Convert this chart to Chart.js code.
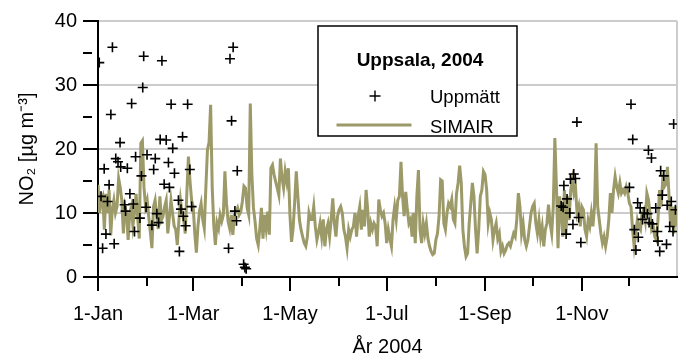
<!DOCTYPE html>
<html>
<head>
<meta charset="utf-8">
<script src="https://cdn.jsdelivr.net/npm/chart.js@4.4.1/dist/chart.umd.min.js"></script>
<style>
html,body{margin:0;padding:0;background:#ffffff;}
#wrap{width:688px;height:356px;position:relative;}
</style>
</head>
<body>
<div id="wrap"><canvas id="chart" width="688" height="356"></canvas></div>
<script>
// ---- data ----
const measuredDays = [
  0.8, 9.1, 28.8, 40.3, 28.2, 21.2, 46.1, 56.5, 8.1, 13.9, 39.2, 43.0, 53.3, 47.1, 11.2, 12.6, 23.7,
  30.9, 36.1, 14.3, 18.5, 3.9, 35.1, 44.4, 48.2, 57.9, 27.4, 7.0, 41.7, 45.0, 1.9, 20.1, 6.0, 50.7,
  16.8, 22.2, 52.3, 59.0, 30.3, 17.4, 37.1, 53.8, 26.4, 38.2, 34.0, 55.2, 23.0, 5.0, 10.2, 2.9, 51.3,
  85.2, 83.2, 84.2, 87.8, 86.3, 87.3, 82.3, 91.8, 92.6, 93.4,
  301.9, 299.9, 300.9, 297.8, 293.7, 295.7, 292.0, 293.2, 297.4, 303.0, 299.4, 295.1, 304.4,
  336.0, 362.9, 337.1, 347.0, 348.9, 354.7, 356.7, 335.0, 355.7, 340.2, 361.4, 358.8, 364.0, 341.8,
  351.6, 344.3, 346.4, 343.3, 347.4, 349.5, 360.4, 338.1, 352.6, 362.5, 340.6, 353.0, 358.4, 339.1, 354.1
];
const measuredValues = [
  33.5, 35.9, 34.5, 33.8, 29.6, 27.1, 27.0, 27.0, 25.4, 21.0, 21.5, 21.4, 21.9, 20.1, 18.5, 18.0, 18.8,
  19.1, 18.5, 17.2, 17.0, 16.9, 16.8, 17.9, 16.2, 16.8, 15.8, 14.4, 14.5, 14.0, 12.6, 13.0, 11.8, 12.0,
  11.3, 11.4, 10.6, 11.0, 10.9, 10.3, 9.9, 9.5, 9.2, 8.5, 8.1, 8.0, 7.1, 6.7, 5.2, 4.5, 4.0,
  35.9, 34.1, 24.4, 16.6, 10.3, 8.8, 4.5, 2.0, 1.5, 1.3,
  24.2, 16.1, 15.4, 15.3, 14.3, 12.2, 11.1, 10.9, 10.0, 9.3, 8.2, 6.7, 5.4,
  27.0, 23.9, 21.5, 19.8, 18.6, 16.6, 15.8, 14.0, 12.8, 11.6, 11.8, 11.2, 10.5, 10.8,
  10.8, 10.0, 9.9, 9.0, 8.5, 8.3, 7.9, 7.4, 7.1, 7.1, 6.2, 5.6, 5.1, 4.2, 4.0
];
// SIMAIR daily values, 1 Jan .. 31 Dec 2004
const simairValues = [
  14.4, 10.0, 12.0, 12.6, 7.4, 13.0, 10.0, 13.6, 6.5, 10.5,
  12.0, 10.0, 11.0, 15.4, 14.0, 12.0, 6.8, 11.0, 10.0, 5.8,
  10.0, 11.0, 8.0, 10.0, 13.0, 9.4, 6.0, 20.9, 21.3, 14.0,
  11.0, 12.0, 9.4, 7.0, 4.5, 11.0, 12.0, 9.4, 7.5, 12.6,
  8.9, 9.5, 11.0, 12.0, 6.8, 9.4, 12.0, 10.0, 8.0, 7.4,
  5.0, 8.9, 12.0, 10.0, 9.0, 6.8, 13.1, 18.8, 15.0, 12.0,
  11.0, 6.8, 3.8, 7.9, 10.3, 11.5, 9.0, 7.6, 14.0, 19.9,
  21.0, 26.9, 14.0, 8.0, 5.0, 8.5, 7.6, 9.7, 8.7, 9.7,
  16.5, 11.5, 8.7, 7.6, 9.7, 6.6, 9.7, 10.2, 10.8, 9.7,
  10.2, 11.8, 14.2, 13.9, 10.8, 9.7, 27.1, 16.0, 10.8, 8.7,
  6.0, 5.0, 7.6, 10.8, 6.0, 9.7, 7.6, 10.2, 6.6, 17.0,
  17.5, 16.0, 14.9, 13.9, 12.8, 18.5, 15.5, 13.9, 16.5, 14.9,
  17.0, 9.7, 5.5, 7.6, 11.8, 16.5, 12.6, 8.9, 7.4, 6.3,
  5.3, 4.8, 6.3, 10.0, 9.0, 9.0, 11.0, 7.9, 5.8, 7.0,
  8.4, 6.3, 9.0, 4.8, 7.4, 8.4, 6.3, 9.0, 12.3, 8.4,
  6.3, 9.5, 10.5, 11.0, 10.0, 7.4, 6.3, 4.5, 7.4, 6.3,
  7.4, 7.9, 10.0, 6.3, 9.5, 11.0, 7.4, 10.5, 7.9, 13.6,
  10.5, 6.3, 8.4, 7.4, 8.4, 7.9, 4.8, 12.1, 10.5, 9.5,
  10.0, 8.4, 5.3, 7.4, 6.0, 4.8, 9.0, 11.0, 9.0, 12.0,
  12.6, 18.0, 12.6, 9.5, 13.3, 10.5, 8.4, 9.0, 6.3, 10.0,
  5.3, 12.6, 16.7, 7.4, 5.3, 8.4, 6.8, 8.4, 6.0, 4.8,
  4.0, 3.5, 3.7, 5.8, 6.8, 9.5, 15.2, 15.0, 8.4, 7.4,
  10.0, 11.5, 11.0, 12.1, 9.0, 8.4, 13.0, 14.7, 17.4, 14.7,
  7.4, 4.8, 3.2, 3.7, 8.4, 11.5, 14.7, 12.6, 7.4, 3.7,
  7.4, 12.6, 13.6, 16.5, 16.0, 13.6, 8.4, 10.0, 8.9, 5.8,
  7.4, 8.4, 6.0, 6.8, 4.0, 4.8, 3.7, 4.2, 5.0, 5.3,
  4.8, 5.8, 6.8, 6.3, 9.0, 13.1, 11.0, 6.8, 8.4, 5.8,
  4.8, 5.8, 7.9, 10.0, 11.0, 11.5, 8.4, 6.8, 8.9, 6.3,
  7.9, 4.8, 7.4, 8.4, 11.3, 8.4, 6.8, 11.0, 21.7, 14.0,
  4.5, 12.6, 10.0, 6.3, 13.6, 6.8, 12.6, 8.9, 13.6, 15.2,
  13.1, 14.1, 10.0, 11.0, 7.9, 11.0, 10.5, 7.4, 6.3, 8.9,
  7.9, 10.0, 7.9, 11.0, 20.9, 11.0, 8.9, 6.8, 5.3, 6.3,
  4.8, 6.3, 8.9, 13.1, 10.0, 13.6, 15.7, 14.1, 13.1, 14.7,
  13.1, 13.6, 13.1, 14.1, 13.1, 11.5, 11.0, 7.4, 4.8, 6.8,
  8.9, 7.9, 7.4, 10.0, 10.5, 8.9, 13.1, 12.1, 10.0, 7.4,
  7.9, 6.3, 5.8, 8.9, 13.6, 11.0, 15.2, 14.1, 14.5, 17.2,
  12.6, 7.9, 11.0, 6.8, 11.0, 7.9
];
const monthStartDays = [0, 31, 60, 91, 121, 152, 182, 213, 244, 274, 305, 335, 365];
const monthLabels = ['1-Jan', '', '1-Mar', '', '1-May', '', '1-Jul', '', '1-Sep', '', '1-Nov', '', ''];
const yTickValues = [0, 5, 10, 15, 20, 25, 30, 35, 40];
const seriesNames = ['Uppmätt', 'SIMAIR'];
const chartTitle = 'Uppsala, 2004';
const xTitle = 'År 2004';
const yTitle = 'NO₂ [µg m⁻³]';

// ---- build ----
const FONT = "'Liberation Sans', Arial, sans-serif";
const OLIVE = '#9c9a68';
const GRID = '#cccccc';

const measuredPoints = measuredDays.map((d, i) => ({ x: d, y: measuredValues[i] }));
const simairPoints = simairValues.map((v, i) => ({ x: i, y: v }));

const boxLegend = {
  id: 'boxLegend',
  afterDatasetsDraw(chart) {
    const ctx = chart.ctx;
    const ca = chart.chartArea;
    const bx = ca.left + 220, by = ca.top + 5, bw = 199, bh = 110;
    ctx.save();
    ctx.fillStyle = '#ffffff';
    ctx.fillRect(bx, by, bw, bh);
    ctx.strokeStyle = '#000000';
    ctx.lineWidth = 1.5;
    ctx.strokeRect(bx, by, bw, bh);
    ctx.fillStyle = '#000000';
    ctx.textBaseline = 'alphabetic';
    ctx.textAlign = 'center';
    ctx.font = "bold 19px " + FONT;
    ctx.fillText(chartTitle, bx + 102, by + 40);
    const ds0 = chart.data.datasets[0], ds1 = chart.data.datasets[1];
    const mx = bx + 57, my = by + 70;
    ctx.strokeStyle = ds0.borderColor;
    ctx.lineWidth = 1.4;
    ctx.beginPath();
    ctx.moveTo(mx - 5.5, my); ctx.lineTo(mx + 5.5, my);
    ctx.moveTo(mx, my - 5.5); ctx.lineTo(mx, my + 5.5);
    ctx.stroke();
    ctx.strokeStyle = ds1.borderColor;
    ctx.lineWidth = 3;
    ctx.beginPath();
    ctx.moveTo(bx + 18.5, by + 99); ctx.lineTo(bx + 93.5, by + 99);
    ctx.stroke();
    ctx.textAlign = 'left';
    ctx.font = "18.5px " + FONT;
    ctx.fillText(ds0.label, bx + 112, by + 77);
    ctx.fillText(ds1.label, bx + 112, by + 106.5);
    ctx.restore();
  }
};

new Chart(document.getElementById('chart'), {
  type: 'line',
  data: {
    datasets: [
      {
        label: seriesNames[0],
        data: measuredPoints,
        showLine: false,
        pointStyle: 'cross',
        pointRadius: 5,
        pointBorderWidth: 1.6,
        borderColor: '#000000',
        backgroundColor: '#000000',
        pointHoverRadius: 5
      },
      {
        label: seriesNames[1],
        data: simairPoints,
        borderColor: OLIVE,
        backgroundColor: OLIVE,
        borderWidth: 3,
        pointRadius: 0,
        tension: 0,
        fill: false
      }
    ]
  },
  options: {
    responsive: false,
    devicePixelRatio: 1,
    animation: false,
    layout: { padding: { top: 21, right: 1, bottom: 0, left: 0 } },
    plugins: {
      legend: { display: false },
      tooltip: { enabled: false },
      title: { display: false }
    },
    scales: {
      x: {
        type: 'linear',
        position: 'bottom',
        min: 0,
        max: 365,
        afterBuildTicks: (s) => { s.ticks = monthStartDays.map(v => ({ value: v })); },
        afterFit: (s) => { s.height = 79; },
        ticks: {
          autoSkip: false,
          maxRotation: 0,
          minRotation: 0,
          padding: 11,
          color: '#000000',
          font: { family: FONT, size: 20 },
          callback: (v, i) => monthLabels[i]
        },
        grid: {
          drawOnChartArea: true,
          lineWidth: 2,
          color: (c) => (c.tick && c.tick.value === 365) ? GRID : 'rgba(0,0,0,0)',
          tickLength: 14,
          tickWidth: 2,
          tickColor: (c) => (c.tick && c.tick.value === 365) ? 'rgba(0,0,0,0)' : '#000000',
          tickBorderDash: (c) => (monthLabels[c.index] === '' ? [8, 40] : [])
        },
        border: { display: true, color: '#000000', width: 2 },
        title: {
          display: true,
          text: xTitle,
          color: '#000000',
          font: { family: FONT, size: 20 },
          padding: { top: 0, bottom: -3 }
        }
      },
      y: {
        type: 'linear',
        position: 'left',
        min: 0,
        max: 40,
        afterBuildTicks: (s) => { s.ticks = yTickValues.map(v => ({ value: v })); },
        afterFit: (s) => { s.width = 98; },
        ticks: {
          padding: 6,
          color: '#000000',
          font: { family: FONT, size: 20 },
          callback: (v) => (v % 10 === 0 ? String(v) : '')
        },
        grid: {
          lineWidth: 2,
          color: (c) => (c.tick && c.tick.value > 0 && c.tick.value % 10 === 0) ? GRID : 'rgba(0,0,0,0)',
          tickLength: 15,
          tickWidth: 2,
          tickColor: '#000000',
          tickBorderDash: (c) => (c.tick && c.tick.value % 10 !== 0 ? [9, 40] : [])
        },
        border: { display: true, color: '#000000', width: 2 },
        title: {
          display: true,
          text: yTitle,
          color: '#000000',
          font: { family: FONT, size: 20 },
          padding: { top: 15, bottom: 0 }
        }
      }
    }
  },
  plugins: [boxLegend]
});
</script>
</body>
</html>
